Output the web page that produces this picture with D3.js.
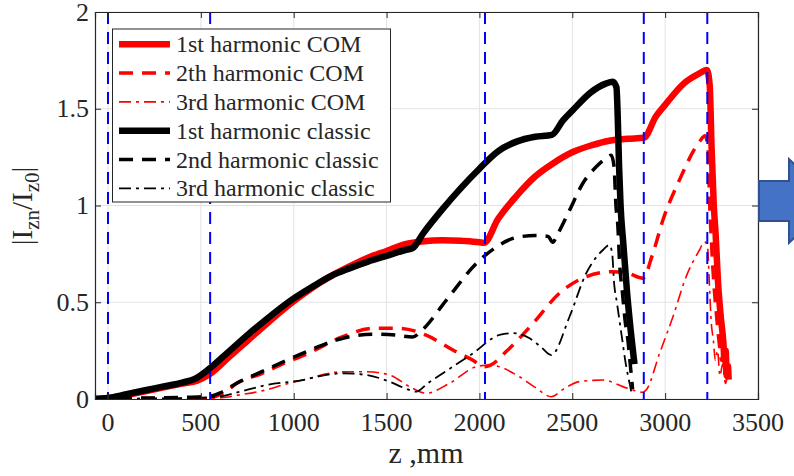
<!DOCTYPE html>
<html><head><meta charset="utf-8">
<script src="https://cdn.jsdelivr.net/npm/d3@7"></script>
<style>body{margin:0;background:#fff}svg{display:block}text{font-family:"Liberation Serif","Times New Roman",serif;fill:#262626}</style>
</head><body><svg id="c" width="794" height="476"></svg>
<script>
// ---- data ----
const xTicks = [0, 500, 1000, 1500, 2000, 2500, 3000, 3500];
const yTicks = [0, 0.5, 1, 1.5, 2];
const yTickLabels = ["0", "0.5", "1", "1.5", "2"];
const blueLines = [0, 550, 2030, 2885, 3227];
const legendLabels = ["1st harmonic COM", "2th harmonic COM", "3rd harmonic COM",
  "1st harmonic classic", "2nd harmonic classic", "3rd harmonic classic"];

const com1 = [[-70,0],[0,0.005],[100,0.02],[200,0.04],[300,0.06],[400,0.08],[480,0.095],[550,0.13],[650,0.215],[750,0.30],[850,0.385],[1000,0.505],[1100,0.575],[1200,0.635],[1300,0.685],[1400,0.73],[1500,0.765],[1600,0.80],[1700,0.815],[1800,0.82],[1900,0.818],[2000,0.81],[2025,0.808],[2100,0.93],[2200,1.05],[2300,1.15],[2400,1.22],[2500,1.275],[2600,1.31],[2700,1.335],[2800,1.345],[2885,1.35],[2950,1.46],[3000,1.52],[3100,1.63],[3180,1.68],[3225,1.70],[3240,1.62],[3250,1.3],[3262,1.0],[3272,0.85],[3285,0.6],[3300,0.42],[3313,0.3],[3320,0.2],[3326,0.25],[3332,0.12],[3338,0.17],[3342,0.1]];
const com2 = [[-70,0],[0,0.002],[300,0.004],[550,0.008],[620,0.03],[700,0.085],[825,0.13],[950,0.185],[1076,0.235],[1264,0.322],[1426,0.365],[1570,0.365],[1713,0.33],[1857,0.253],[1965,0.20],[2022,0.167],[2060,0.175],[2144,0.245],[2288,0.39],[2431,0.547],[2575,0.632],[2718,0.658],[2800,0.65],[2880,0.624],[2934,0.753],[2988,0.925],[3077,1.132],[3185,1.33],[3215,1.36],[3230,1.3],[3240,1.0],[3250,0.8],[3262,0.6],[3275,0.45],[3290,0.3],[3305,0.2],[3315,0.25],[3325,0.1],[3335,0.15]];
const com3 = [[-70,0],[0,0.001],[400,0.003],[600,0.006],[700,0.02],[852,0.047],[950,0.075],[1076,0.105],[1200,0.135],[1263,0.141],[1390,0.141],[1516,0.124],[1624,0.064],[1713,0.03],[1839,0.081],[1983,0.167],[2055,0.176],[2216,0.115],[2300,0.06],[2387,0.012],[2450,0.05],[2539,0.09],[2665,0.098],[2772,0.064],[2850,0.04],[2880,0.035],[2898,0.047],[2970,0.236],[3042,0.425],[3113,0.632],[3185,0.77],[3212,0.813],[3228,0.79],[3238,0.6],[3248,0.4],[3260,0.3],[3270,0.2],[3282,0.25],[3295,0.12],[3310,0.18],[3325,0.08],[3335,0.12]];
const cls1 = [[-70,0],[0,0.005],[100,0.025],[200,0.045],[300,0.065],[400,0.085],[470,0.105],[550,0.16],[650,0.245],[750,0.33],[850,0.41],[1000,0.52],[1100,0.58],[1200,0.635],[1300,0.675],[1400,0.71],[1500,0.74],[1600,0.77],[1640,0.78],[1700,0.86],[1800,0.98],[1900,1.09],[2000,1.19],[2100,1.28],[2200,1.33],[2300,1.355],[2390,1.365],[2450,1.44],[2500,1.49],[2600,1.585],[2680,1.63],[2718,1.64],[2738,1.61],[2745,1.45],[2752,1.2],[2760,1.0],[2775,0.8],[2795,0.55],[2815,0.35],[2830,0.22],[2835,0.18]];
const cls2 = [[-70,0],[0,0.002],[200,0.005],[400,0.008],[550,0.015],[600,0.03],[700,0.085],[825,0.14],[950,0.195],[1075,0.247],[1250,0.31],[1426,0.335],[1550,0.33],[1640,0.32],[1690,0.355],[1821,0.51],[1983,0.70],[2090,0.785],[2200,0.835],[2300,0.845],[2370,0.84],[2395,0.81],[2420,0.85],[2485,0.975],[2557,1.115],[2629,1.20],[2683,1.245],[2710,1.26],[2725,1.2],[2735,1.0],[2745,0.9],[2755,0.7],[2770,0.55],[2785,0.4],[2800,0.3],[2810,0.2],[2820,0.1],[2825,0.05]];
const cls3 = [[-70,0],[0,0.001],[400,0.004],[600,0.012],[700,0.035],[852,0.072],[1048,0.098],[1150,0.12],[1264,0.133],[1390,0.124],[1516,0.09],[1600,0.055],[1660,0.038],[1720,0.08],[1803,0.133],[1965,0.236],[2108,0.331],[2180,0.34],[2270,0.314],[2330,0.27],[2387,0.227],[2485,0.425],[2575,0.65],[2665,0.77],[2700,0.796],[2715,0.75],[2725,0.6],[2740,0.5],[2755,0.4],[2770,0.3],[2785,0.2],[2800,0.12],[2815,0.05],[2820,0.02]];

// ---- layout ----
const svg = d3.select("#c");
const L = 95, R = 758, T = 12, B = 399;
const x = d3.scaleLinear().domain([-70, 3500]).range([L, R]);
const y = d3.scaleLinear().domain([0, 2]).range([B, T]);

svg.append("defs").append("clipPath").attr("id","clip")
  .append("rect").attr("x",L).attr("y",T).attr("width",R-L).attr("height",B-T);

// grid
const g = svg.append("g");
g.selectAll(".gx").data(xTicks).enter().append("line")
  .attr("x1",d=>x(d)).attr("x2",d=>x(d)).attr("y1",T).attr("y2",B)
  .attr("stroke","#e3e3e3").attr("stroke-width",1);
g.selectAll(".gy").data(yTicks).enter().append("line")
  .attr("x1",L).attr("x2",R).attr("y1",d=>y(d)).attr("y2",d=>y(d))
  .attr("stroke","#e3e3e3").attr("stroke-width",1);

// series
const series = [
  {d: com1, c:"#ff0000", w:6.5, dash:null},
  {d: com2, c:"#ff0000", w:3.5, dash:"14,9"},
  {d: com3, c:"#ff0000", w:1.6, dash:"12,5,3,5"},
  {d: cls1, c:"#000000", w:6.5, dash:null},
  {d: cls2, c:"#000000", w:3.5, dash:"14,9"},
  {d: cls3, c:"#000000", w:1.8, dash:"12,5,3,5"}
];
const line = d3.line().x(d=>x(d[0])).y(d=>y(d[1])).curve(d3.curveMonotoneX);
const pg = svg.append("g").attr("clip-path","url(#clip)");
series.forEach(s=>{
  pg.append("path").attr("d", line(s.d)).attr("fill","none")
    .attr("stroke", s.c).attr("stroke-width", s.w)
    .attr("stroke-dasharray", s.dash).attr("stroke-linejoin","round");
});

// blue dashed verticals
pg.selectAll(".bl").data(blueLines).enter().append("line")
  .attr("x1",d=>x(d)).attr("x2",d=>x(d)).attr("y1",T).attr("y2",B)
  .attr("stroke","#0000ff").attr("stroke-width",2).attr("stroke-dasharray","12,8");

// axes box + ticks (MATLAB style, inward ticks)
const ax = svg.append("g");
const xAxB = d3.axisBottom(x).tickValues(xTicks).tickSize(-6).tickFormat("");
const xAxT = d3.axisTop(x).tickValues(xTicks).tickSize(-6).tickFormat("");
const yAxL = d3.axisLeft(y).tickValues(yTicks).tickSize(-6).tickFormat("");
const yAxR = d3.axisRight(y).tickValues(yTicks).tickSize(-6).tickFormat("");
ax.append("g").attr("transform",`translate(0,${B})`).call(xAxB);
ax.append("g").attr("transform",`translate(0,${T})`).call(xAxT);
ax.append("g").attr("transform",`translate(${L},0)`).call(yAxL);
ax.append("g").attr("transform",`translate(${R},0)`).call(yAxR);
ax.selectAll("path.domain").attr("stroke","#262626").attr("stroke-width",1.2);
ax.selectAll(".tick line").attr("stroke","#262626");

// tick labels
svg.selectAll(".xl").data(xTicks).enter().append("text")
  .attr("x",d=>x(d)).attr("y",431).attr("text-anchor","middle")
  .attr("font-size",26).text(d=>d);
svg.selectAll(".yl").data(yTicks).enter().append("text")
  .attr("x",89).attr("y",d=>y(d)+8.5).attr("text-anchor","end")
  .attr("font-size",26).text((d,i)=>yTickLabels[i]);

// axis labels
svg.append("text").attr("x",426).attr("y",463).attr("text-anchor","middle")
  .attr("font-size",30).text("z ,mm");
const yl = svg.append("text").attr("transform","translate(32,206) rotate(-90)")
  .attr("text-anchor","middle").attr("font-size",29);
yl.append("tspan").text("|I");
yl.append("tspan").attr("font-size",21).attr("dy",7).text("zn");
yl.append("tspan").attr("dy",-7).text("/I");
yl.append("tspan").attr("font-size",21).attr("dy",7).text("z0");
yl.append("tspan").attr("dy",-7).text("|");

// legend
const lg = svg.append("g");
lg.append("rect").attr("x",112.5).attr("y",29).attr("width",278).attr("height",173)
  .attr("fill","#fff").attr("stroke","#262626").attr("stroke-width",1);
const rowY = d3.scaleLinear().domain([0,5]).range([44.3,188.3]);
series.forEach((s,i)=>{
  lg.append("line").attr("x1",119).attr("x2",170).attr("y1",rowY(i)).attr("y2",rowY(i))
    .attr("stroke",s.c).attr("stroke-width",s.w).attr("stroke-dasharray",s.dash);
  lg.append("text").attr("x",176).attr("y",rowY(i)+8).attr("font-size",24)
    .attr("fill","#000").text(legendLabels[i]);
});

// blue arrow on right (clipped by the frame)
svg.append("path")
  .attr("d","M759,181 L789,181 L789,159 L832,201 L789,243 L789,221 L759,221 Z")
  .attr("fill","#4472c4").attr("stroke","#2f528f").attr("stroke-width",2);
</script></body></html>
